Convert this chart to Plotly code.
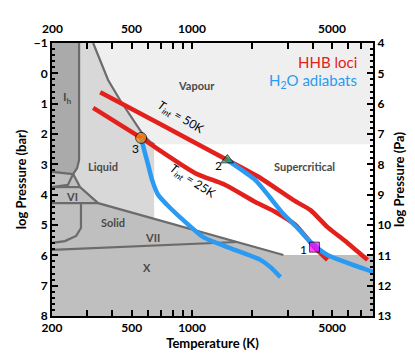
import math
import plotly.graph_objects as go

# palette
RED = "#e3211c"
BLUE = "#2b9af3"
LINE_GREY = "#6b6b6b"
VAPOUR = "#efefef"
LIQUID = "#d8d8d8"
ICE_IH = "#aaaaaa"
SOLID = "#bfbfbf"
LABEL = "#4a4a4a"
FONT = "Lato"

# axis limits
T_MIN, T_MAX = 200, 8000
P_TOP, P_BOT = -1, 8

# HHB loci (T in K, log P in bar)
HHB50_T = [348, 693, 1500, 2193, 3207, 3900, 4743, 5970, 7516]
HHB50_P = [0.62, 1.67, 2.86, 3.45, 4.18, 4.51, 5.07, 5.59, 6.15]
HHB25_T = [321, 557, 1038, 1466, 2070, 2606, 3282, 4083, 4743]
HHB25_P = [1.14, 2.13, 3.29, 3.68, 4.24, 4.57, 5.00, 5.73, 6.15]

# H2O adiabats
AD3_T = [557, 577, 604, 632, 678, 752, 904, 1138, 1500, 2193, 2461, 2761]
AD3_P = [2.13, 2.53, 3.02, 3.52, 4.01, 4.34, 4.84, 5.40, 5.73, 6.15, 6.39, 6.72]
AD2_T = [1500, 2070, 2461, 2858, 3358, 3900, 4743, 5970, 8000]
AD2_P = [2.86, 3.52, 4.11, 4.64, 5.10, 5.56, 5.99, 6.25, 6.55]

# numbered points
PT_LABELS = ["1", "2", "3"]
PT_T = [4083, 1500, 557]
PT_P = [5.73, 2.86, 2.13]

# phase boundaries
BOIL_T = [321, 348, 381, 437, 508, 570, 618, 647]
BOIL_P = [-1.0, -0.44, 0.22, 0.88, 1.54, 2.03, 2.26, 2.34]
IH_MELT_T = [273, 273, 267, 255]
IH_MELT_P = [-1.0, 2.86, 3.12, 3.32]
IH_BASE_T = [255, 224, 200]
IH_BASE_P = [3.32, 3.29, 3.25]
MELT_T = [255, 276, 340, 647, 2858]
MELT_P = [3.32, 3.75, 4.28, 4.80, 5.99]
III_T = [255, 240, 200]
III_P = [3.32, 3.68, 3.75]
VI_TOP_T = [200, 276]
VI_TOP_P = [3.75, 3.75]
VI_VII_T = [200, 340]
VI_VII_P = [4.28, 4.28]
VIII_T = [279, 279, 264, 232, 200]
VIII_P = [4.28, 5.10, 5.36, 5.53, 5.59]
X_T = [200, 1683]
X_P = [5.82, 5.56]
CRIT_T, CRIT_P = 647, 2.34
X_HIGH_P = 5.99

# tick labels
X_TICKS = [200, 500, 1000, 5000]
X_MINOR = [300, 400, 600, 700, 800, 900, 2000, 3000, 4000, 6000, 7000, 8000]

fig = go.Figure()


def fill(xs, ys, color):
    fig.add_trace(go.Scatter(
        x=xs, y=ys, mode="lines", fill="toself", fillcolor=color,
        line=dict(width=0), hoverinfo="skip", showlegend=False,
    ))


def grey_line(xs, ys):
    fig.add_trace(go.Scatter(
        x=xs, y=ys, mode="lines", line=dict(color=LINE_GREY, width=2.2),
        hoverinfo="skip", showlegend=False,
    ))


# regions
fill(BOIL_T + [T_MAX, T_MAX], BOIL_P + [CRIT_P, P_TOP], VAPOUR)
fill(IH_MELT_T + MELT_T[1:4] + [CRIT_T] + BOIL_T[::-1],
     IH_MELT_P + MELT_P[1:4] + [CRIT_P] + BOIL_P[::-1], LIQUID)
fill([T_MIN] + IH_MELT_T + IH_BASE_T, [P_TOP] + IH_MELT_P + IH_BASE_P, ICE_IH)
fill(IH_BASE_T[::-1] + MELT_T + [T_MAX, T_MAX, T_MIN],
     IH_BASE_P[::-1] + MELT_P + [X_HIGH_P, P_BOT, P_BOT], SOLID)

# boundaries
for xs, ys in [(BOIL_T, BOIL_P), (IH_MELT_T, IH_MELT_P), (IH_BASE_T, IH_BASE_P),
               (MELT_T, MELT_P), (III_T, III_P), (VI_TOP_T, VI_TOP_P),
               (VI_VII_T, VI_VII_P), (VIII_T, VIII_P), (X_T, X_P)]:
    grey_line(xs, ys)

# HHB loci
for xs, ys in [(HHB50_T, HHB50_P), (HHB25_T, HHB25_P)]:
    fig.add_trace(go.Scatter(x=xs, y=ys, mode="lines",
                             line=dict(color=RED, width=4.5, shape="spline", smoothing=0.6),
                             showlegend=False))
# adiabats
for xs, ys in [(AD3_T, AD3_P), (AD2_T, AD2_P)]:
    fig.add_trace(go.Scatter(x=xs, y=ys, mode="lines",
                             line=dict(color=BLUE, width=4.5, shape="spline", smoothing=0.6),
                             showlegend=False))

# markers
fig.add_trace(go.Scatter(
    x=PT_T, y=PT_P, mode="markers",
    marker=dict(symbol=["square", "triangle-up", "circle"],
                color=["#ff00ff", "#1a9a5c", "#ff8a00"], size=[10, 11, 11],
                line=dict(color="black", width=1)),
    showlegend=False,
))

# invisible trace to carry the right (Pa) axis
fig.add_trace(go.Scatter(x=PT_T, y=[p + 5 for p in PT_P], yaxis="y2",
                         mode="markers", marker=dict(opacity=0), hoverinfo="skip",
                         showlegend=False))


# text labels (paper coords)
def label(text, x, y, size=11, color=LABEL, angle=0, xanchor="center", weight="bold"):
    fig.add_annotation(text=text, x=x, y=y, xref="paper", yref="paper",
                       showarrow=False, textangle=angle, xanchor=xanchor, yanchor="middle",
                       font=dict(family=FONT, size=size, color=color, weight=weight))


label("Vapour", 0.449, 0.846)
label("I<sub>h</sub>", 0.047, 0.799, size=12)
label("Liquid", 0.159, 0.546)
label("Supercritical", 0.788, 0.546)
label("VI", 0.062, 0.436)
label("Solid", 0.19, 0.344)
label("VII", 0.312, 0.289)
label("X", 0.296, 0.179)
label("HHB loci", 0.956, 0.930, size=15, color=RED, xanchor="right", weight="normal")
label("H<sub>2</sub>O adiabats", 0.956, 0.861, size=15, color=BLUE, xanchor="right",
      weight="normal")
label("<i>T</i><sub><i>int</i></sub> = 50K", 0.400, 0.727, size=12, color="black",
      angle=31, weight="normal")
label("<i>T</i><sub><i>int</i></sub> = 25K", 0.438, 0.494, size=12, color="black",
      angle=33, weight="normal")
for text, x, y in [("3", 0.259, 0.615), ("2", 0.52, 0.553), ("1", 0.782, 0.245)]:
    label(text, x, y, size=12, color="black", weight="normal")

tickfont = dict(family=FONT, size=12, color="black", weight="bold")
titlefont = dict(family=FONT, size=13, color="black", weight="bold")

# top temperature labels (ticks come from the mirrored bottom axis)
for v in X_TICKS:
    fig.add_annotation(text=str(v), x=math.log10(v), y=1, xref="x", yref="paper",
                       yshift=15, showarrow=False, yanchor="middle", font=tickfont)

fig.update_layout(
    # page body adds an 8 px offset, so the figure is drawn 8 px smaller/shifted
    width=407, height=348,
    margin=dict(l=44, r=42, t=35, b=40),
    paper_bgcolor="white", plot_bgcolor="white",
    xaxis=dict(type="log", range=[math.log10(T_MIN), math.log10(T_MAX)],
               tickvals=X_TICKS, ticktext=[str(v) for v in X_TICKS],
               ticks="inside", ticklen=6, tickwidth=2, tickcolor="black",
               minor=dict(ticks="inside", ticklen=3, tickwidth=1.5, tickvals=X_MINOR,
                          tickcolor="black"),
               showline=True, linewidth=2, linecolor="black", mirror="allticks",
               showgrid=False, zeroline=False, tickfont=tickfont, automargin=False,
               title=dict(text="Temperature (K)", font=titlefont, standoff=2)),
    yaxis=dict(range=[P_BOT, P_TOP], dtick=1,
               ticks="inside", ticklen=6, tickwidth=2, tickcolor="black",
               minor=dict(ticks="inside", ticklen=3, tickwidth=1.5, dtick=0.2,
                          tickcolor="black"),
               showline=True, linewidth=2, linecolor="black",
               showgrid=False, zeroline=False, tickfont=tickfont, automargin=False,
               title=dict(text="log Pressure (bar)", font=titlefont, standoff=4)),
    yaxis2=dict(range=[P_BOT + 5, P_TOP + 5], dtick=1, overlaying="y", side="right",
                anchor="x",
                ticks="inside", ticklen=6, tickwidth=2, tickcolor="black",
                minor=dict(ticks="inside", ticklen=3, tickwidth=1.5, dtick=0.2,
                           tickcolor="black"),
                showline=True, linewidth=2, linecolor="black",
                showgrid=False, zeroline=False, tickfont=tickfont, automargin=False,
                title=dict(text="log Pressure (Pa)", font=titlefont, standoff=4)),
    showlegend=False,
)

fig.write_html("out.html")
